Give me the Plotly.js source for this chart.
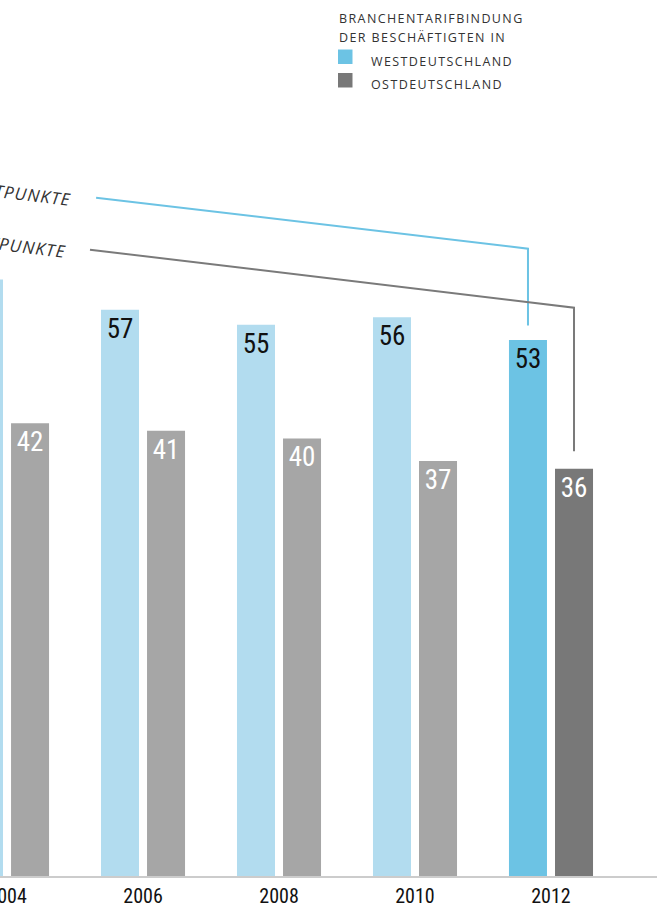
<!DOCTYPE html>
<html>
<head>
<meta charset="utf-8">
<script src="https://cdn.plot.ly/plotly-3.0.1.min.js"></script>
<style>
  html, body { margin: 0; padding: 0; background: #fff; overflow: hidden; }
  #chart { width: 757px; height: 905px; margin-left: -100px; }
  .annotation-text { letter-spacing: 1.4px; }
  .annotation[data-index="0"] .annotation-text,
  .annotation[data-index="1"] .annotation-text { letter-spacing: 1.2px; }
</style>
</head>
<body>
<div id="chart"></div>
<script>
// ---- data ----
const years = [2004, 2006, 2008, 2010, 2012];
const tickLabels = ["2004", "2006", "2008", "2010", "2012"];
const west = [61, 57, 55, 56, 53];
const east = [42, 41, 40, 37, 36];
const westName = "WESTDEUTSCHLAND";
const eastName = "OSTDEUTSCHLAND";
const legendTitle1 = "BRANCHENTARIFBINDUNG";
const legendTitle2 = "DER BESCHÄFTIGTEN IN";
const westNote = "−17 PROZENTPUNKTE";
const eastNote = "−20 PROZENTPUNKTE";

// ---- styling ----
const W = 757, H = 905, shift = 100, mT = 100, mB = 29;
const plotH = H - mT - mB, plotBottom = H - mB;
const px = x => (x + shift) / W;            // page x -> paper x
const py = y => (plotBottom - y) / plotH;   // page y -> paper y

const axisMin = -17.8;       // value at the baseline of the (truncated) axis
const axisMax = 84.7;
const westLight = "#b2dcef", westDark = "#6cc3e4";
const eastLight = "#a6a6a6", eastDark = "#787878";
const barW = 0.559, westOff = -0.618, eastOff = 0.059;
const last = years.length - 1;

const westColors = years.map((y, i) => i === last ? westDark : westLight);
const eastColors = years.map((y, i) => i === last ? eastDark : eastLight);
const labelFont = "'Liberation Sans Narrow', 'Roboto Condensed', Roboto, sans-serif";
const textFont = "'Open Sans', sans-serif";

const traces = [
  {
    type: "bar", name: westName, x: years,
    y: west.map(v => v - axisMin), base: axisMin,
    width: barW, offset: westOff,
    marker: { color: westColors },
    text: west.map(String), textposition: "inside", insidetextanchor: "end",
    textfont: { family: labelFont, size: 27, color: "#111" },
    constraintext: "none", hoverinfo: "skip"
  },
  {
    type: "bar", name: eastName, x: years,
    y: east.map(v => v - axisMin), base: axisMin,
    width: barW, offset: eastOff,
    marker: { color: eastColors },
    text: east.map(String), textposition: "inside", insidetextanchor: "end",
    textfont: { family: labelFont, size: 27, color: "#fff" },
    constraintext: "none", hoverinfo: "skip"
  }
];

const westBarX = years[last] + westOff + barW / 2;
const eastBarX = years[last] + eastOff + barW / 2;

const legendFont = { family: textFont, size: 12.5, color: "#333" };
const noteFont = { family: textFont, size: 17, color: "#333", style: "italic" };

const layout = {
  width: W, height: H,
  margin: { l: 0, r: 0, t: mT, b: mB, autoexpand: false },
  paper_bgcolor: "#fff", plot_bgcolor: "#fff",
  barmode: "overlay",
  showlegend: false,
  xaxis: {
    type: "linear", range: [2002.426, 2013.559],
    tickvals: years, ticktext: tickLabels,
    showgrid: false, zeroline: false,
    showline: true, linecolor: "#cccccc", linewidth: 2,
    ticks: "", ticklabelstandoff: 1,
    tickfont: { family: labelFont, size: 20, color: "#111" },
    fixedrange: true
  },
  yaxis: {
    range: [axisMin, axisMax], visible: false, fixedrange: true
  },
  shapes: [
    { type: "path", xref: "x", yref: "y",
      path: `M 2005.31 71.8 L ${westBarX} 65.06 L ${westBarX} ${west[last] + 1.9}`,
      line: { color: westDark, width: 2 } },
    { type: "path", xref: "x", yref: "y",
      path: `M 2005.22 64.93 L ${eastBarX} 57.27 L ${eastBarX} ${east[last] + 2.3}`,
      line: { color: "#7a7a7a", width: 2 } },
    // legend swatches
    { type: "rect", xref: "paper", yref: "paper", x0: px(338), x1: px(352.5), y0: py(49.5), y1: py(64),
      fillcolor: westDark, line: { width: 0 } },
    { type: "rect", xref: "paper", yref: "paper", x0: px(338), x1: px(352.5), y0: py(73), y1: py(87.5),
      fillcolor: eastDark, line: { width: 0 } }
  ],
  annotations: [
    { xref: "x", yref: "y", x: 2005.016, y: 73.0, xanchor: "right", yanchor: "middle",
      text: westNote, showarrow: false, textangle: 7, font: noteFont },
    { xref: "x", yref: "y", x: 2004.946, y: 66.2, xanchor: "right", yanchor: "middle",
      text: eastNote, showarrow: false, textangle: 7, font: noteFont },
    { xref: "paper", yref: "paper", x: px(337), y: py(18.5), xanchor: "left", yanchor: "middle",
      text: legendTitle1, showarrow: false, font: legendFont },
    { xref: "paper", yref: "paper", x: px(337), y: py(37.8), xanchor: "left", yanchor: "middle",
      text: legendTitle2, showarrow: false, font: legendFont },
    { xref: "paper", yref: "paper", x: px(369), y: py(61.2), xanchor: "left", yanchor: "middle",
      text: westName, showarrow: false, font: legendFont },
    { xref: "paper", yref: "paper", x: px(369), y: py(84.5), xanchor: "left", yanchor: "middle",
      text: eastName, showarrow: false, font: legendFont }
  ]
};

Plotly.newPlot("chart", traces, layout, { displayModeBar: false, staticPlot: true });
</script>
</body>
</html>
